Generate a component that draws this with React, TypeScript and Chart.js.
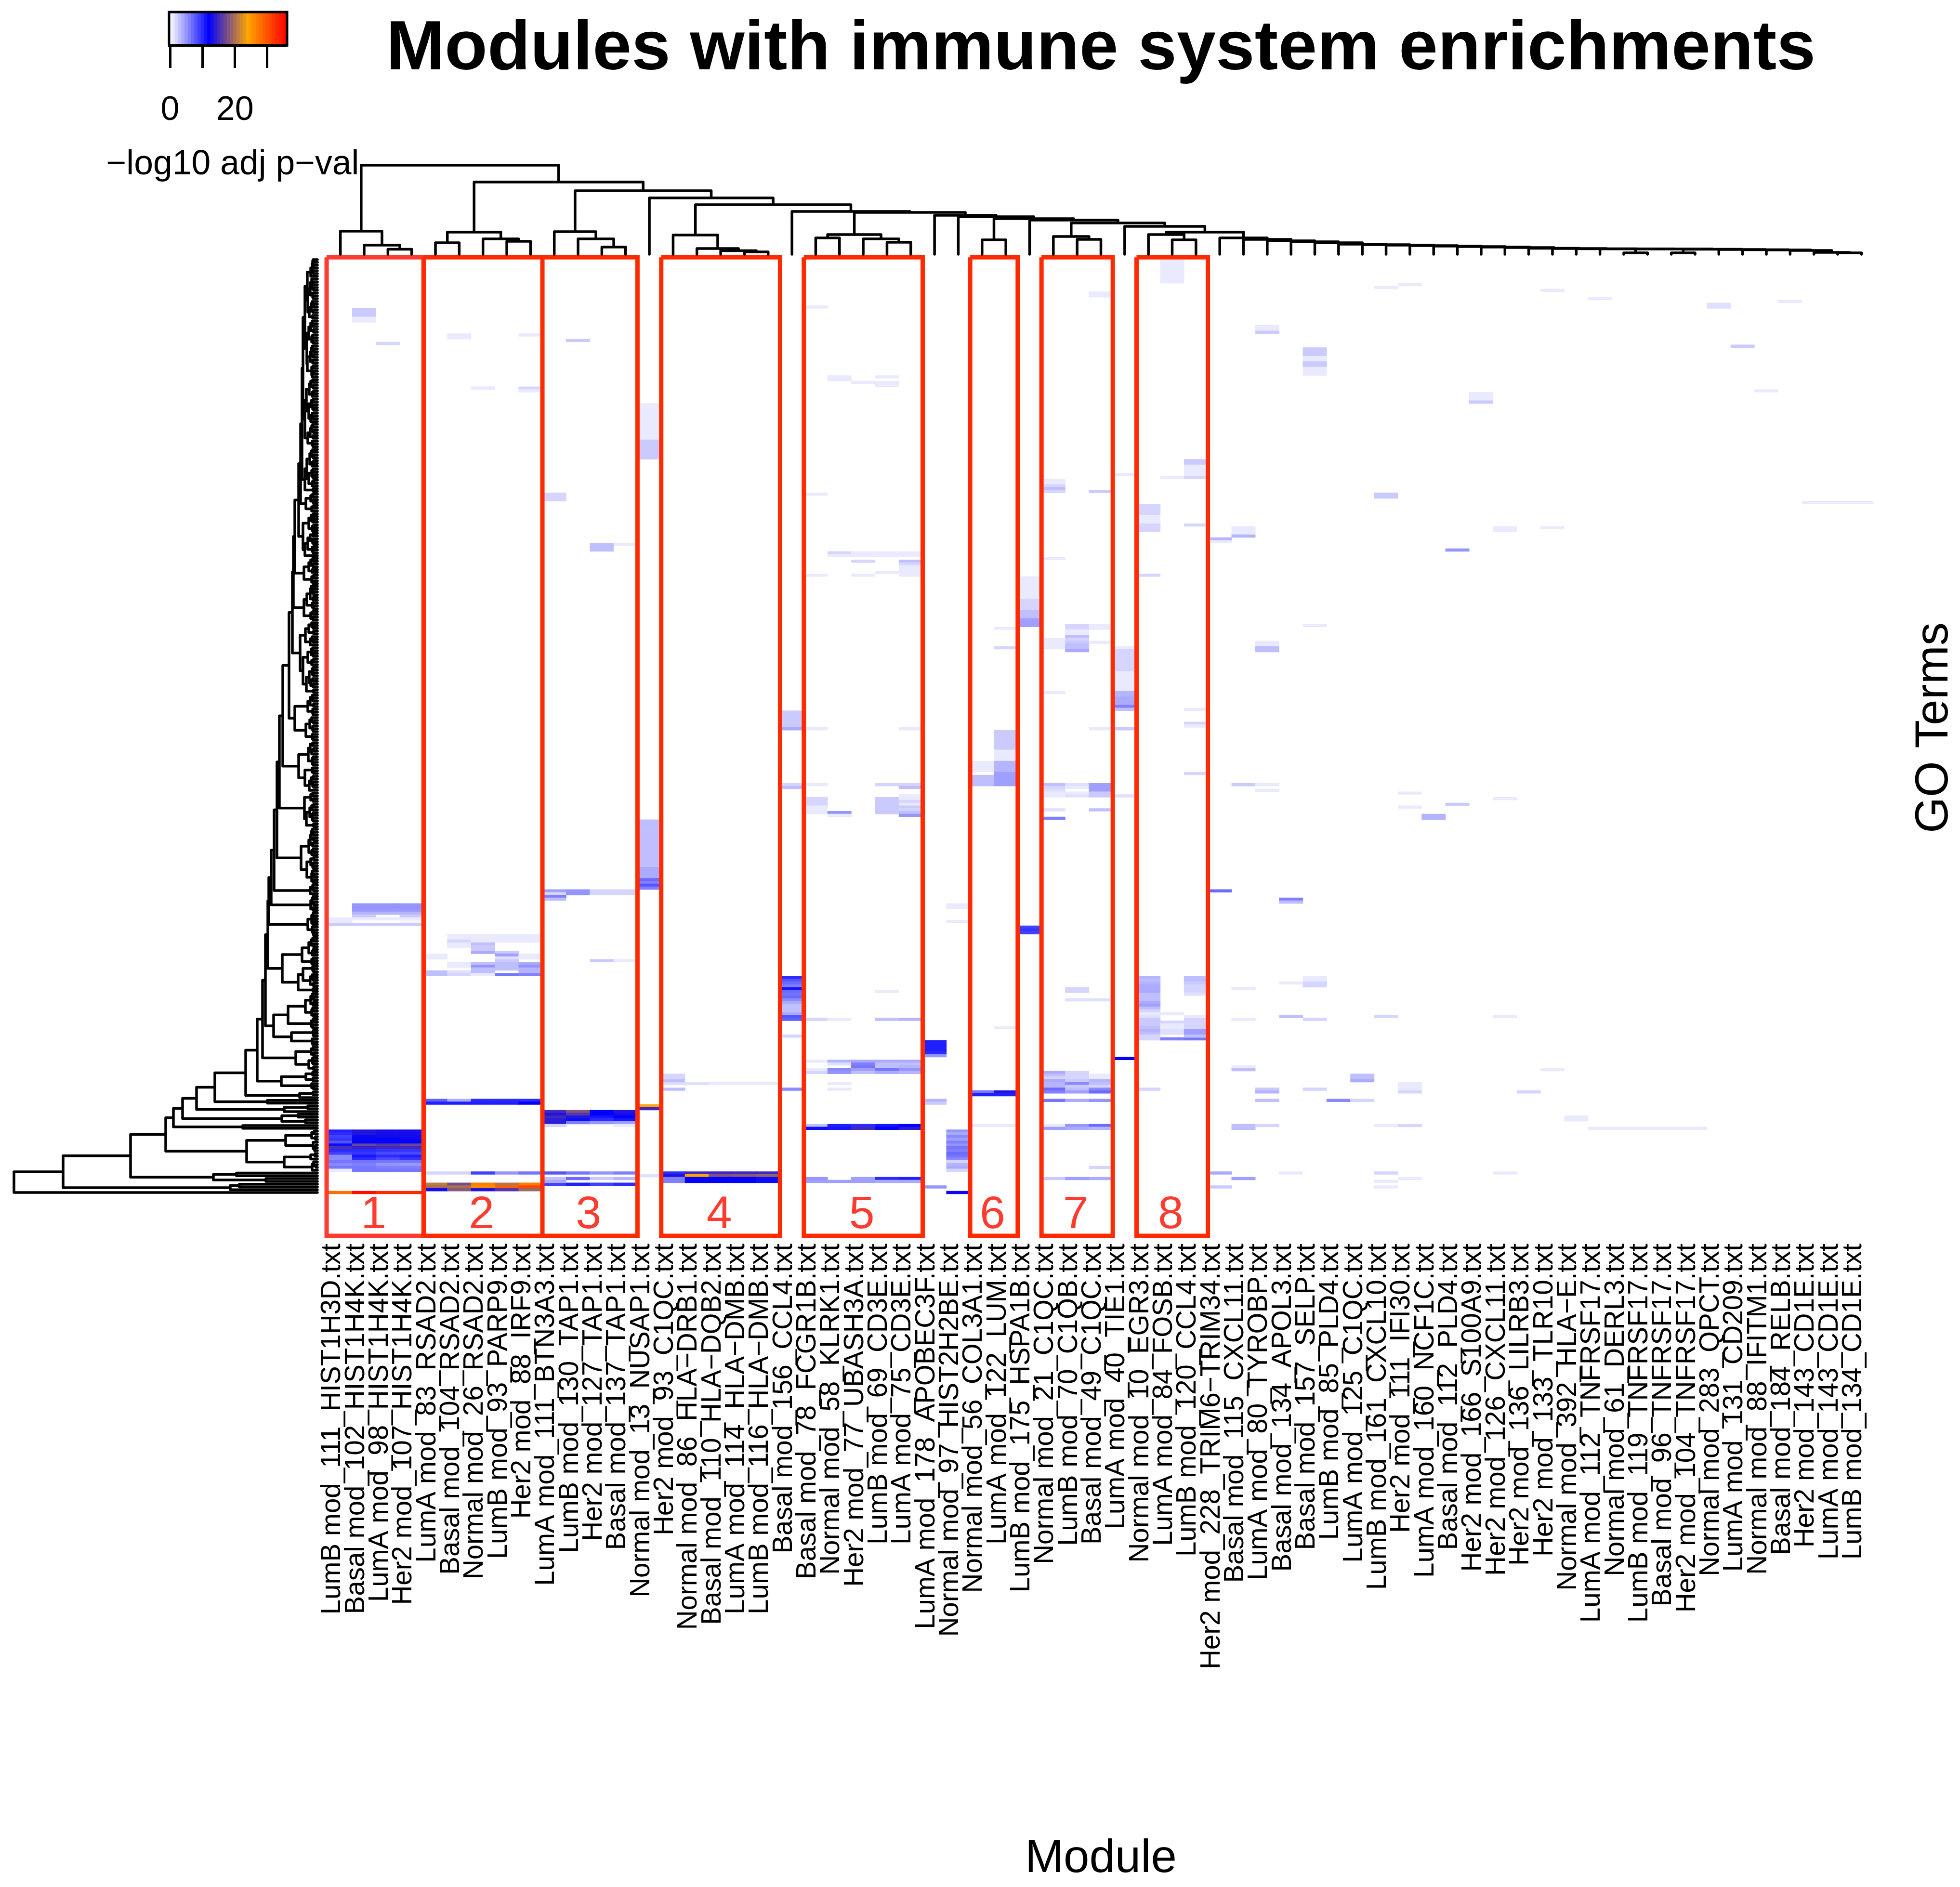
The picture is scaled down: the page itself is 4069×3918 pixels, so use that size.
import React, { useEffect, useRef } from "react";
import { Chart, registerables } from "chart.js";

Chart.register(...registerables);

const FONT = '"Liberation Sans", Arial, sans-serif';
const ROW_COUNT = 335;

const moduleLabels = [
  "LumB mod_111_HIST1H3D.txt", "Basal mod_102_HIST1H4K.txt", "LumA mod_98_HIST1H4K.txt", "Her2 mod_107_HIST1H4K.txt",
  "LumA mod_83_RSAD2.txt", "Basal mod_104_RSAD2.txt", "Normal mod_26_RSAD2.txt", "LumB mod_93_PARP9.txt", "Her2 mod_88_IRF9.txt",
  "LumA mod_111_BTN3A3.txt", "LumB mod_130_TAP1.txt", "Her2 mod_127_TAP1.txt", "Basal mod_137_TAP1.txt", "Normal mod_13_NUSAP1.txt",
  "Her2 mod_93_C1QC.txt", "Normal mod_86_HLA\u2212DRB1.txt", "Basal mod_110_HLA\u2212DQB2.txt", "LumA mod_114_HLA\u2212DMB.txt", "LumB mod_116_HLA\u2212DMB.txt",
  "Basal mod_156_CCL4.txt", "Basal mod_78_FCGR1B.txt", "Normal mod_58_KLRK1.txt", "Her2 mod_77_UBASH3A.txt", "LumB mod_69_CD3E.txt", "LumA mod_75_CD3E.txt",
  "LumA mod_178_APOBEC3F.txt", "Normal mod_97_HIST2H2BE.txt", "Normal mod_56_COL3A1.txt", "LumA mod_122_LUM.txt", "LumB mod_175_HSPA1B.txt",
  "Normal mod_21_C1QC.txt", "LumB mod_70_C1QB.txt", "Basal mod_49_C1QC.txt", "LumA mod_40_TIE1.txt", "Normal mod_10_EGR3.txt", "LumA mod_84_FOSB.txt",
  "LumB mod_120_CCL4.txt", "Her2 mod_228_TRIM6\u2212TRIM34.txt", "Basal mod_115_CXCL11.txt", "LumA mod_80_TYROBP.txt", "Basal mod_134_APOL3.txt",
  "Basal mod_157_SELP.txt", "LumB mod_85_PLD4.txt", "LumA mod_125_C1QC.txt", "LumB mod_161_CXCL10.txt", "Her2 mod_111_IFI30.txt", "LumA mod_160_NCF1C.txt",
  "Basal mod_112_PLD4.txt", "Her2 mod_166_S100A9.txt", "Her2 mod_126_CXCL11.txt", "Her2 mod_136_LILRB3.txt", "Her2 mod_133_TLR10.txt", "Normal mod_392_HLA\u2212E.txt",
  "LumA mod_112_TNFRSF17.txt", "Normal mod_61_DERL3.txt", "LumB mod_119_TNFRSF17.txt", "Basal mod_96_TNFRSF17.txt", "Her2 mod_104_TNFRSF17.txt",
  "Normal mod_283_QPCT.txt", "LumA mod_131_CD209.txt", "Normal mod_88_IFITM1.txt", "Basal mod_184_RELB.txt", "Her2 mod_143_CD1E.txt", "LumA mod_143_CD1E.txt", "LumB mod_134_CD1E.txt",
];

// [row, firstColumn, value, value, ...]; 0 means an empty cell
const rowStrips: number[][] = [
  [231, 1, 5, 5, 5], [232, 1, 5, 5, 5], [233, 1, 4.8, 4.8, 4.8], [234, 1, 3.5, 3.5, 3.5], [235, 1, 2.5, 0, 2.5],
  [236, 0, 1, 1, 1, 1], [237, 0, 1, 0, 0, 0.5], [238, 0, 2.5, 2.5, 2.5, 2.5],
  [312, 0, 10.5, 13.5, 13, 13], [313, 0, 10, 13.5, 13, 13], [314, 0, 9, 12.5, 12.8, 12.8], [315, 0, 9.5, 12.3, 12, 12.5],
  [316, 0, 8, 12, 12, 12], [317, 0, 11.5, 17, 16, 17], [318, 0, 15.5, 14.5, 15, 15], [319, 0, 10, 10, 9.5, 9.5],
  [320, 0, 9, 9.5, 8.5, 8.5], [321, 0, 5.5, 11, 10, 10.5], [322, 0, 5.5, 10, 8.5, 9.5], [323, 0, 6.5, 6.5, 6.5, 6.5],
  [324, 0, 5.5, 6, 5, 4.8], [325, 0, 6.5, 6.5, 6, 6], [326, 0, 1, 6.5, 6.5, 6.5], [334, 0, 28, 35, 33, 33],
  [242, 5, 1, 1, 1, 1], [243, 5, 1, 1, 1, 1], [244, 5, 2, 1, 1, 1], [245, 5, 1, 3], [246, 5, 1, 2.5], [247, 6, 2.5], [248, 6, 4, 2.5],
  [249, 4, 1, 0, 0, 4.5, 1], [250, 4, 1, 0, 0, 1.5, 1], [251, 7, 2.5], [252, 5, 1, 3, 3, 4], [253, 5, 1, 5, 3, 5], [254, 6, 3, 3, 3.5],
  [255, 4, 3, 1.5, 3, 0, 3.5], [256, 4, 3, 2, 1, 6.5, 6],
  [301, 4, 7.5, 4, 10, 10, 10], [302, 4, 10.5, 10.5, 10.5, 10.5, 12],
  [327, 4, 2, 2, 9, 5, 6.5, 8, 6.5, 5, 6], [331, 4, 21, 17.5, 27, 20.5, 27, 9, 10.5, 9, 10],
  [332, 4, 20, 20, 26, 29, 31], [333, 4, 13, 18.5, 13.5, 16, 19.5],
  [226, 9, 4.5, 5, 2, 2], [227, 9, 2, 5, 2, 2], [228, 9, 6], [229, 9, 3], [251, 11, 2.5, 1],
  [305, 9, 15, 18, 12, 13.5], [306, 9, 13.5, 16, 12, 13], [307, 9, 15, 13.5, 11, 12], [308, 9, 14, 11.5, 10, 11],
  [309, 9, 14, 6, 5, 4.5], [310, 9, 2, 0, 0, 1], [329, 9, 3, 7, 2.5, 3.5], [330, 9, 4],
  [295, 14, 1.5, 1.5, 1, 1, 1], [327, 13, 0, 10, 15, 15, 15, 15], [328, 13, 1.5, 13.5, 24, 18, 18.5, 19],
  [329, 14, 6, 12, 12, 12, 11.5], [330, 14, 6, 12, 12, 12, 11.5],
  [262, 23, 1], [272, 20, 2, 1, 0, 3, 3.5], [287, 20, 1, 3.5, 4, 4, 4], [288, 21, 1.5, 6, 3, 3], [289, 22, 6.5, 3, 3.5],
  [290, 20, 1, 5.5, 4.5, 6.5, 5], [291, 20, 2, 5, 3, 4, 3.5], [310, 20, 3, 10.5, 10, 11, 12], [311, 20, 11.5, 11, 15, 12, 14],
  [329, 20, 5, 0, 4.5, 10, 10.5], [330, 20, 4.5, 4.5, 4.5, 4, 4],
  [105, 21, 2, 1, 1, 1], [106, 21, 1, 1, 1, 1], [108, 22, 2, 0, 3], [109, 24, 2], [188, 20, 1, 0, 0, 2, 2], [189, 24, 3],
  [298, 27, 6.5, 13.5], [299, 27, 10.5, 10.5], [310, 27, 1, 1],
  [291, 30, 4, 2], [292, 30, 3, 2, 1], [293, 30, 2, 2, 1], [294, 30, 4, 2.5, 3.5], [295, 30, 3.5, 5.5, 3], [296, 30, 3.5, 2.5, 2],
  [297, 30, 7, 3, 5.5], [298, 30, 6, 4.5, 7], [301, 30, 6.5, 4, 5], [310, 30, 1, 5, 7], [311, 30, 4.5, 4, 3.5], [329, 30, 2.5, 4.5, 4],
  [188, 30, 3, 1.5, 4.5], [189, 30, 2, 1, 4.5], [190, 30, 1.5, 0, 4.5], [191, 30, 1, 1, 2.5], [192, 30, 1, 1.5, 2.5], [265, 31, 1.5, 1.5],
  [197, 30, 1.5, 0, 3], [279, 34, 2, 6, 6.5], [87, 62, 1, 1, 1],
];

// [column, firstRow, lastRow, value]
const cellRuns: number[][] = [
  [1, 18, 20, 2.5], [1, 21, 22, 1], [2, 30, 30, 2], [5, 27, 28, 1], [8, 27, 27, 1], [8, 46, 46, 2], [8, 47, 47, 1], [6, 46, 46, 1],
  [10, 29, 29, 2.5], [9, 84, 86, 2], [11, 102, 104, 3], [12, 102, 102, 1],
  [13, 52, 64, 1], [13, 65, 71, 2.5], [13, 201, 217, 3], [13, 218, 221, 4], [13, 222, 222, 7], [13, 223, 223, 6], [13, 224, 224, 8], [13, 225, 225, 6],
  [13, 303, 303, 24], [13, 304, 304, 15],
  [14, 292, 293, 2], [14, 294, 294, 3], [14, 297, 297, 3],
  [19, 162, 167, 2.5], [19, 168, 168, 4], [19, 188, 188, 2], [19, 189, 189, 3],
  [19, 257, 257, 10], [19, 258, 258, 8], [19, 259, 259, 7], [19, 260, 260, 6], [19, 261, 261, 11], [19, 262, 262, 7], [19, 263, 263, 6.5], [19, 264, 264, 7],
  [19, 265, 265, 5.5], [19, 266, 266, 4], [19, 267, 269, 3], [19, 270, 270, 4], [19, 271, 271, 8], [19, 272, 272, 7.5], [19, 278, 278, 2], [19, 297, 297, 5.5],
  [20, 17, 17, 1], [20, 84, 84, 1], [20, 113, 113, 1], [20, 168, 168, 1], [20, 193, 195, 2], [20, 196, 198, 1],
  [21, 42, 43, 1], [21, 198, 198, 5], [21, 199, 199, 1], [21, 295, 295, 1], [21, 297, 297, 1],
  [22, 44, 44, 1], [22, 113, 113, 1], [23, 42, 42, 1], [23, 44, 45, 1], [23, 112, 112, 1], [23, 193, 198, 2.5],
  [24, 110, 113, 1], [24, 168, 168, 1], [24, 192, 192, 1], [24, 193, 193, 1], [24, 194, 194, 2], [24, 195, 195, 1], [24, 196, 196, 2.5], [24, 197, 197, 2], [24, 198, 198, 3], [24, 199, 199, 5],
  [25, 280, 283, 10.5], [25, 284, 284, 10], [25, 285, 285, 5], [25, 301, 301, 3.5], [25, 302, 302, 2.5], [25, 332, 332, 5],
  [26, 231, 232, 1], [26, 237, 237, 1], [26, 312, 312, 5], [26, 313, 313, 4], [26, 314, 314, 5.5], [26, 315, 315, 4.5], [26, 316, 316, 6], [26, 317, 317, 5],
  [26, 318, 318, 6.5], [26, 319, 319, 6], [26, 320, 320, 7], [26, 321, 321, 6.5], [26, 322, 322, 5.5], [26, 323, 323, 2], [26, 324, 324, 3.5], [26, 325, 325, 4], [26, 326, 326, 2], [26, 334, 334, 12.5],
  [27, 180, 183, 1], [27, 185, 188, 3],
  [28, 132, 132, 1], [28, 139, 139, 2], [28, 169, 175, 2.5], [28, 176, 179, 1], [28, 180, 183, 3.5], [28, 184, 188, 4.5], [28, 275, 275, 1],
  [29, 114, 121, 1], [29, 122, 125, 2], [29, 126, 128, 3], [29, 129, 131, 4.5], [29, 239, 239, 9], [29, 240, 240, 9.5], [29, 241, 241, 9],
  [30, 79, 80, 1], [30, 81, 81, 2], [30, 82, 82, 3], [30, 83, 83, 2], [30, 107, 107, 1], [30, 136, 139, 1], [30, 155, 155, 1], [30, 200, 200, 6],
  [31, 131, 132, 2], [31, 133, 134, 1], [31, 135, 135, 3], [31, 136, 136, 2], [31, 137, 137, 2.5], [31, 138, 139, 3], [31, 140, 140, 4], [31, 261, 262, 2],
  [32, 12, 13, 1], [32, 83, 83, 2.5], [32, 131, 132, 1], [32, 137, 137, 1], [32, 168, 168, 1], [32, 325, 325, 2],
  [33, 77, 77, 1], [33, 139, 139, 1], [33, 140, 147, 2], [33, 148, 154, 1], [33, 155, 156, 3.5], [33, 157, 159, 4], [33, 160, 160, 6], [33, 161, 161, 3], [33, 168, 168, 2.5], [33, 192, 192, 1.5], [33, 286, 286, 12],
  [34, 88, 91, 2], [34, 92, 94, 1], [34, 95, 97, 2], [34, 113, 113, 2], [34, 257, 257, 3.5], [34, 258, 258, 3], [34, 259, 259, 3.5], [34, 260, 262, 4], [34, 263, 265, 3],
  [34, 266, 266, 4], [34, 267, 267, 4.5], [34, 268, 268, 3], [34, 269, 269, 2], [34, 270, 270, 1], [34, 271, 271, 1.5], [34, 272, 274, 2.5], [34, 275, 275, 3], [34, 276, 276, 3.5], [34, 277, 277, 3], [34, 278, 278, 2], [34, 297, 297, 2],
  [35, 0, 8, 1], [35, 78, 78, 1], [35, 270, 270, 1], [35, 273, 273, 2], [35, 274, 275, 1], [35, 276, 277, 1.5],
  [36, 72, 73, 2.5], [36, 74, 77, 1], [36, 78, 78, 2], [36, 95, 95, 2], [36, 161, 161, 1], [36, 166, 166, 2], [36, 167, 167, 1], [36, 184, 184, 2],
  [36, 257, 258, 3], [36, 259, 259, 2.5], [36, 260, 262, 2], [36, 263, 263, 1.5], [36, 271, 271, 1], [36, 272, 275, 2], [36, 276, 277, 4.5], [36, 278, 278, 3],
  [37, 100, 100, 3.5], [37, 101, 101, 1], [37, 226, 226, 7], [37, 327, 327, 4], [37, 332, 332, 2.5],
  [38, 96, 98, 1], [38, 99, 99, 3.5], [38, 188, 188, 2.5], [38, 261, 261, 1], [38, 272, 272, 1], [38, 289, 289, 1], [38, 290, 290, 3], [38, 310, 311, 3], [38, 329, 329, 4.5],
  [39, 24, 25, 1], [39, 26, 26, 2.5], [39, 137, 138, 1], [39, 139, 140, 3], [39, 188, 188, 1], [39, 190, 190, 1], [39, 297, 297, 2.5], [39, 298, 298, 3.5], [39, 301, 301, 3], [39, 310, 310, 2],
  [40, 229, 229, 6], [40, 230, 230, 3], [40, 259, 259, 1], [40, 271, 271, 3], [40, 327, 327, 1],
  [41, 32, 34, 2.5], [41, 35, 36, 1], [41, 37, 38, 2.5], [41, 39, 41, 1], [41, 131, 131, 1], [41, 257, 258, 1], [41, 259, 260, 2], [41, 272, 272, 2], [41, 297, 297, 2],
  [42, 301, 301, 5.5],
  [43, 292, 293, 3], [43, 294, 294, 4], [43, 301, 301, 2],
  [44, 10, 10, 1], [44, 84, 85, 2.5], [44, 271, 271, 2], [44, 310, 310, 1], [44, 327, 327, 2], [44, 330, 330, 1], [44, 332, 332, 1],
  [45, 9, 9, 1], [45, 191, 191, 1], [45, 196, 196, 1], [45, 295, 297, 1], [45, 298, 298, 2], [45, 310, 310, 2], [45, 329, 329, 1],
  [46, 199, 200, 3.5],
  [47, 104, 104, 5], [47, 195, 195, 2.5],
  [48, 48, 50, 1], [48, 51, 51, 2.5],
  [49, 96, 97, 1], [49, 193, 193, 1], [49, 271, 271, 1], [49, 327, 327, 1],
  [50, 298, 298, 2], [51, 11, 11, 1], [51, 96, 96, 1], [51, 290, 290, 1], [52, 307, 308, 1], [53, 14, 14, 1],
  [53, 311, 311, 1], [54, 311, 311, 1], [55, 311, 311, 1], [56, 311, 311, 1], [57, 311, 311, 1],
  [58, 16, 17, 1.5], [59, 31, 31, 2.5], [60, 47, 47, 1], [61, 15, 15, 1],
];

// merge height between neighbouring leaves of the column dendrogram
const columnGaps = [
  48, 19, 10.5, 185, 24, 46, 32, 27, 150, 47, 32, 15, 132, 117, 40, 12, 7.5, 5, 103, 89, 34, 41, 32, 25, 87, 81, 78, 30, 74, 71, 37, 31, 65,
  58, 41, 30, 46, 34, 31, 28, 26, 24, 21, 20, 19, 18, 17, 16, 15, 14, 12.5, 12, 11.5, 11.2, 3, 11, 3, 10.5, 10, 9.5, 9, 8, 4, 3,
];

// merge height between neighbouring leaves of the row dendrogram
const rowGaps = [
  9, 10, 8, 11, 9, 14, 21, 12, 9, 11,
  8, 15, 10, 9, 20, 11, 8, 13, 9, 17,
  10, 26, 11, 9, 14, 8, 18, 10, 12, 9,
  22, 11, 8, 13, 9, 15, 10, 21, 9, 12,
  8, 11, 30, 10, 14, 9, 17, 8, 11, 23,
  9, 13, 10, 8, 18, 11, 9, 14, 26, 10,
  12, 8, 15, 9, 20, 11, 9, 32, 10, 13,
  9, 16, 8, 11, 22, 9, 12, 10, 18, 8,
  11, 26, 9, 35, 10, 14, 9, 24, 8, 12,
  39, 9, 13, 10, 18, 8, 11, 30, 9, 15,
  10, 8, 20, 11, 9, 26, 47, 10, 14, 9,
  18, 11, 28, 8, 12, 9, 50, 13, 10, 8,
  15, 9, 22, 11, 8, 28, 10, 14, 9, 52,
  12, 9, 18, 8, 25, 11, 9, 15, 36, 10,
  13, 9, 20, 8, 12, 30, 9, 11, 8, 17,
  10, 14, 9, 23, 8, 59, 11, 9, 15, 8,
  20, 10, 9, 47, 12, 8, 16, 10, 9, 24,
  11, 9, 72, 10, 15, 8, 12, 19, 9, 11,
  9, 39, 11, 8, 26, 9, 13, 10, 8, 17,
  79, 10, 14, 9, 27, 8, 12, 16, 9, 11,
  9, 23, 8, 84, 11, 9, 13, 8, 15, 10,
  18, 9, 12, 34, 8, 14, 10, 9, 22, 11,
  8, 12, 9, 90, 10, 8, 15, 96, 9, 11,
  8, 14, 9, 101, 9, 8, 12, 10, 20, 11,
  9, 8, 103, 10, 13, 8, 18, 9, 11, 32,
  9, 12, 73, 10, 8, 30, 11, 9, 15, 8,
  40, 9, 108, 11, 8, 14, 9, 25, 10, 12,
  8, 61, 9, 13, 10, 91, 9, 8, 54, 11,
  10, 114, 9, 13, 8, 45, 11, 9, 18, 8,
  125, 10, 24, 9, 75, 12, 8, 149, 9, 37,
  213, 104, 251, 20, 69, 280, 40, 74, 25, 299,
  155, 315, 7, 12, 4, 66, 9, 3, 6, 147,
  5, 14, 69, 8, 3, 11, 388, 168, 216, 107,
  528, 162, 181, 630,
];

const boxColumns = [[-0.08, 4], [4, 9], [9, 13], [14, 19], [20, 25], [27, 29], [30, 33], [34, 37]];
const boxNumbers = ["1", "2", "3", "4", "5", "6", "7", "8"];
const legendLevels = [0, 1, 2, 3, 4, 5, 6, 7, 8, 9, 10, 11, 12, 13, 14, 15, 16, 17, 18, 19, 20, 21, 22, 23, 24, 25, 26, 27, 28, 29, 30, 31, 32, 33, 34, 35, 36];
const legendTicks = [0, 10, 20, 30];
const legendTickLabels = ["0", "", "20", ""];
const colorStops = [
  { at: 0, rgb: [255, 255, 255] },
  { at: 12, rgb: [0, 0, 255] },
  { at: 24, rgb: [255, 165, 0] },
  { at: 36, rgb: [255, 0, 0] },
];

function colorFor(v: number): string {
  for (let i = 1; i < colorStops.length; i++) {
    const a = colorStops[i - 1];
    const b = colorStops[i];
    if (v <= b.at) {
      const t = (v - a.at) / (b.at - a.at);
      const c = a.rgb.map((x, k) => Math.round(x + (b.rgb[k] - x) * t));
      return `rgb(${c[0]},${c[1]},${c[2]})`;
    }
  }
  return "rgb(255,0,0)";
}

function buildCells() {
  const cells: { x: number; y: number[]; v: number }[] = [];
  rowStrips.forEach(([row, first, ...values]) => {
    values.forEach((v, k) => {
      if (v > 0) cells.push({ x: first + k + 0.5, y: [row, row + 1], v });
    });
  });
  cellRuns.forEach(([col, r0, r1, v]) => {
    cells.push({ x: col + 0.5, y: [r0, r1 + 1], v });
  });
  return cells;
}

// Builds an ordered dendrogram from the heights between neighbouring leaves.
// Returns polyline points as [height, position], broken by NaN.
function treePath(gaps: number[]): number[][] {
  const path: number[][] = [];
  const walk = (lo: number, hi: number): { h: number; p: number } => {
    if (lo === hi) return { h: 0, p: lo + 0.5 };
    let split = lo;
    for (let i = lo; i < hi; i++) if (gaps[i] > gaps[split]) split = i;
    const a = walk(lo, split);
    const b = walk(split + 1, hi);
    const h = gaps[split];
    path.push([a.h, a.p], [h, a.p], [h, b.p], [b.h, b.p], [NaN, NaN]);
    return { h, p: (a.p + b.p) / 2 };
  };
  walk(0, gaps.length);
  return path;
}

function boxPath(boxes: number[][]) {
  const top = -0.3;
  const bottom = 350;
  const pts: { x: number; y: number }[] = [];
  boxes.forEach(([l, r]) => {
    pts.push({ x: l, y: top }, { x: r, y: top }, { x: r, y: bottom }, { x: l, y: bottom }, { x: l, y: top }, { x: NaN, y: NaN });
  });
  return pts;
}

const annotate = {
  id: "annotate",
  afterDatasetsDraw(chart: any) {
    const { ctx, scales } = chart;
    ctx.save();
    ctx.fillStyle = "#FF3B30";
    ctx.font = `95px ${FONT}`;
    ctx.textAlign = "center";
    ctx.textBaseline = "middle";
    boxColumns.forEach(([l, r], i) => {
      ctx.fillText(boxNumbers[i], scales.xRect.getPixelForValue((l + r) / 2) - 3, scales.y.getPixelForValue(342.8));
    });
    ctx.fillStyle = "#000";
    ctx.font = `96px ${FONT}`;
    ctx.translate(4017, 1511);
    ctx.rotate(-Math.PI / 2);
    ctx.fillText("GO Terms", 0, 0);
    ctx.restore();
  },
};

const legendCaption = {
  id: "legendCaption",
  afterDatasetsDraw(chart: any) {
    const { ctx } = chart;
    ctx.save();
    ctx.fillStyle = "#000";
    ctx.font = `71.5px ${FONT}`;
    ctx.textAlign = "center";
    ctx.textBaseline = "middle";
    ctx.fillText("\u2212log10 adj p\u2212val", 333, 342);
    ctx.restore();
  },
};

const noPlugins = { legend: { display: false }, tooltip: { enabled: false }, title: { display: false } };

export default function App() {
  const mainRef = useRef<HTMLCanvasElement>(null);
  const topRef = useRef<HTMLCanvasElement>(null);
  const leftRef = useRef<HTMLCanvasElement>(null);
  const legendRef = useRef<HTMLCanvasElement>(null);

  useEffect(() => {
    const common = { animation: false as const, responsive: false, devicePixelRatio: 1 };
    const boxes = boxColumns.slice(1);
    const line = {
      type: "line" as const,
      xAxisID: "xRect",
      pointRadius: 0,
      borderWidth: 9,
      spanGaps: false,
      clip: false as const,
      borderJoinStyle: "miter" as const,
      fill: false,
    };

    const main = new Chart(mainRef.current!, {
      type: "bar",
      data: {
        labels: moduleLabels,
        datasets: [
          { ...line, order: 0, data: boxPath(boxes), borderColor: "#FF2A00" },
          { ...line, order: 1, data: boxPath(boxColumns.slice(0, 1)), borderColor: "#FF3B30" },
          {
            order: 2,
            xAxisID: "xRect",
            data: buildCells(),
            backgroundColor: (c: any) => colorFor(c.raw ? c.raw.v : 0),
            borderWidth: 0,
            barPercentage: 1,
            categoryPercentage: 1,
          },
        ] as any,
      },
      options: {
        ...common,
        layout: { padding: { left: 682, right: 180, top: 0, bottom: 0 } },
        plugins: {
          legend: { display: false },
          tooltip: { enabled: false },
          title: {
            display: true,
            text: "Modules with immune system enrichments",
            color: "#000",
            font: { family: FONT, size: 145.5, weight: "bold", lineHeight: 1.2 },
            padding: { top: 17, bottom: 344.4 },
          },
        },
        scales: {
          x: {
            type: "category",
            offset: true,
            grid: { display: false },
            border: { display: false },
            ticks: {
              autoSkip: false,
              minRotation: 90,
              maxRotation: 90,
              labelOffset: -16,
              padding: 8,
              color: "#000",
              font: { family: FONT, size: 56.5 },
            },
            title: {
              display: true,
              text: "Module",
              color: "#000",
              font: { family: FONT, size: 96 },
              padding: { top: 0, bottom: 0 },
            },
            afterFit(scale: any) {
              scale.height = 1352;
            },
          },
          xRect: { type: "linear", axis: "x", display: false, offset: false, min: 0, max: moduleLabels.length },
          y: { type: "linear", display: false, reverse: true, min: 0, max: 350 },
        } as any,
      },
      plugins: [annotate],
    } as any);

    const treeStyle = { pointRadius: 0, borderWidth: 5.5, borderColor: "#000", showLine: true, spanGaps: false, clip: false as const, borderCapStyle: "round" as const, borderJoinStyle: "round" as const };

    const top = new Chart(topRef.current!, {
      type: "scatter",
      data: { datasets: [{ ...treeStyle, data: treePath(columnGaps).map(([h, p]) => ({ x: p, y: h })) }] },
      options: {
        ...common,
        plugins: noPlugins,
        layout: { padding: { left: 20, right: 20, top: 18, bottom: 10 } },
        scales: {
          x: { type: "linear", display: false, min: 0, max: moduleLabels.length },
          y: { type: "linear", display: false, min: 0, max: 190 },
        },
      },
    } as any);

    const left = new Chart(leftRef.current!, {
      type: "scatter",
      data: { datasets: [{ ...treeStyle, data: treePath(rowGaps).map(([h, p]) => ({ x: h, y: p })) }] },
      options: {
        ...common,
        plugins: noPlugins,
        layout: { padding: { left: 19, right: 21, top: 36, bottom: 31 } },
        scales: {
          x: { type: "linear", display: false, reverse: true, min: 0, max: 640 },
          y: { type: "linear", display: false, reverse: true, min: 0, max: ROW_COUNT },
        },
      },
    } as any);

    const legend = new Chart(legendRef.current!, {
      type: "bar",
      data: {
        datasets: [
          {
            type: "line",
            order: 0,
            data: [{ x: -0.3, y: 0 }, { x: 36.1, y: 0 }, { x: 36.1, y: 1 }, { x: -0.3, y: 1 }, { x: -0.3, y: 0 }],
            borderColor: "#000",
            borderWidth: 5,
            pointRadius: 0,
            clip: false,
          },
          {
            order: 1,
            data: legendLevels.map((v) => ({ x: v, y: [0, 1], v })),
            backgroundColor: (c: any) => colorFor(c.raw ? c.raw.v : 0),
            borderWidth: 0,
            barPercentage: 1,
            categoryPercentage: 1,
          },
        ] as any,
      },
      options: {
        ...common,
        plugins: noPlugins,
        layout: { padding: { left: 201, right: 254, top: 25, bottom: 0 } },
        scales: {
          x: {
            type: "linear",
            offset: false,
            min: -0.3,
            max: 36.1,
            afterBuildTicks(scale: any) {
              scale.ticks = legendTicks.map((value) => ({ value }));
            },
            grid: { display: true, offset: false, drawOnChartArea: false, drawTicks: true, tickLength: 47, tickWidth: 5, tickColor: "#000" },
            border: { display: true, color: "#000", width: 5 },
            ticks: {
              autoSkip: false,
              maxRotation: 0,
              minRotation: 0,
              padding: 47,
              color: "#000",
              font: { family: FONT, size: 70 },
              callback: (value: number) => legendTickLabels[legendTicks.indexOf(value)] ?? "",
            },
            afterFit(scale: any) {
              scale.height = 326;
            },
          },
          y: { type: "linear", display: false, min: 0, max: 1 },
        },
      },
      plugins: [legendCaption],
    } as any);

    return () => {
      main.destroy();
      top.destroy();
      left.destroy();
      legend.destroy();
    };
  }, []);

  const abs = (left: number, top: number): React.CSSProperties => ({ position: "absolute", left, top, display: "block" });

  return (
    <div style={{ position: "absolute", left: 0, top: 0, width: 4069, height: 3918, overflow: "hidden", background: "#fff" }}>
      <canvas ref={mainRef} width={4069} height={3918} style={abs(0, 0)} />
      <canvas ref={topRef} width={3247} height={218} style={abs(662, 320)} />
      <canvas ref={leftRef} width={680} height={2010} style={abs(0, 500)} />
      <canvas ref={legendRef} width={700} height={420} style={abs(150, 0)} />
    </div>
  );
}
